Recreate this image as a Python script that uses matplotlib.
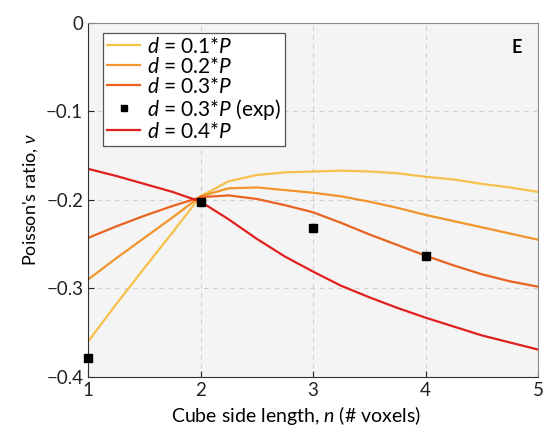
import matplotlib
matplotlib.use("Agg")
import matplotlib.pyplot as plt

plt.rcParams['font.family'] = ['Lato', 'DejaVu Sans']
plt.rcParams['mathtext.fontset'] = 'custom'
plt.rcParams['mathtext.rm'] = 'Lato'
plt.rcParams['mathtext.it'] = 'Lato:italic'

# Würfelkantenlänge n
n = [1, 1.25, 1.5, 1.75, 2, 2.25, 2.5, 2.75, 3, 3.25, 3.5, 3.75, 4, 4.25, 4.5, 4.75, 5]
# Poissonzahl je Durchmesser
nu_01 = [-0.360, -0.318, -0.277, -0.237, -0.196, -0.179, -0.172, -0.169, -0.168,
         -0.167, -0.168, -0.170, -0.174, -0.177, -0.182, -0.186, -0.191]
nu_02 = [-0.290, -0.266, -0.243, -0.220, -0.196, -0.187, -0.186, -0.189, -0.192,
         -0.196, -0.202, -0.209, -0.217, -0.224, -0.231, -0.238, -0.245]
nu_03 = [-0.243, -0.230, -0.218, -0.207, -0.197, -0.195, -0.199, -0.206, -0.214,
         -0.226, -0.239, -0.251, -0.263, -0.274, -0.284, -0.292, -0.298]
nu_04 = [-0.165, -0.173, -0.182, -0.191, -0.202, -0.222, -0.244, -0.264, -0.281,
         -0.297, -0.310, -0.322, -0.333, -0.343, -0.353, -0.361, -0.369]
# Experiment
n_exp = [1, 2, 3, 4]
nu_exp = [-0.378, -0.202, -0.232, -0.263]

fig = plt.figure(figsize=(5.55, 4.32), dpi=100)
ax = fig.add_axes([0.1586, 0.1273, 0.8108, 0.8202])
ax.set_facecolor('#f4f4f4')

ax.plot(n, nu_01, color='#f7c04a', lw=1.6, label='$d$ = 0.1*$P$')
ax.plot(n, nu_02, color='#f2952b', lw=1.6, label='$d$ = 0.2*$P$')
ax.plot(n, nu_03, color='#ea6320', lw=1.6, label='$d$ = 0.3*$P$')
ax.plot(n_exp, nu_exp, 's', color='black', ms=5.5, clip_on=False, zorder=5,
        label='$d$ = 0.3*$P$ (exp)')
ax.plot(n, nu_04, color='#e0201f', lw=1.6, label='$d$ = 0.4*$P$')

ax.set_xlim(1, 5)
ax.set_ylim(-0.4, 0)
ax.set_xticks([1, 2, 3, 4, 5])
ax.set_yticks([-0.4, -0.3, -0.2, -0.1, 0])
ax.set_yticklabels(['\u22120.4', '\u22120.3', '\u22120.2', '\u22120.1', '0'])
ax.grid(True, ls=(0, (4, 4)), color='#cfcfcf', lw=0.8)
ax.tick_params(direction='in', length=4, labelsize=13.5, colors='#222222')

for s in ['left', 'bottom']:
    ax.spines[s].set_color('#333333')
for s in ['top', 'right']:
    ax.spines[s].set_color('#8a8a8a')

ax.set_xlabel('Cube side length, $n$ (# voxels)', fontsize=14, labelpad=1)
ax.xaxis.set_label_coords(0.462, -0.075)
ax.set_ylabel("Poisson's ratio, $\\nu$", fontsize=13, labelpad=4)

ax.text(0.965, 0.955, 'E', transform=ax.transAxes, ha='right', va='top',
        fontsize=13, fontweight='bold')

leg = ax.legend(loc='upper left', bbox_to_anchor=(0.033, 0.972), fontsize=15,
                fancybox=False, edgecolor='#555555', framealpha=1,
                handlelength=1.6, handletextpad=0.3, labelspacing=0.0,
                borderpad=0.2, borderaxespad=0, markerscale=0.8)
leg.get_frame().set_linewidth(0.9)

fig.savefig('out.png', dpi=100)
